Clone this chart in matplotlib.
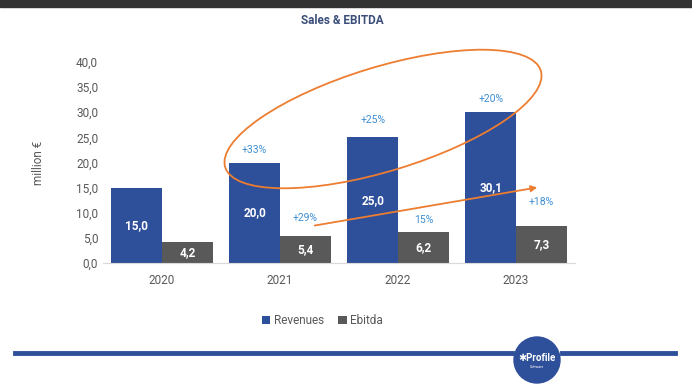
import numpy as np
import matplotlib.pyplot as plt
from matplotlib.patches import Ellipse, Circle, Rectangle, FancyArrowPatch
from matplotlib.lines import Line2D
from matplotlib.transforms import Affine2D

plt.rcParams['font.family'] = ['Roboto', 'DejaVu Sans']

# data
years = ['2020', '2021', '2022', '2023']
revenues = [15.0, 20.0, 25.0, 30.1]
ebitda = [4.2, 5.4, 6.2, 7.3]
rev_growth = ['', '+33%', '+25%', '+20%']
rev_growth_y = [0, 22.5, 28.5, 32.7]
ebitda_growth = ['', '+29%', '15%', '+18%']
ebitda_growth_y = [0, 9.0, 8.6, 12.2]

blue = '#2E4F9A'
grey = '#595959'
light_blue = '#3F8FD2'
orange = '#ED7D31'

fig = plt.figure(figsize=(6.92, 3.85), dpi=100)
ax = fig.add_axes([103/692, 1 - 263/385, 472/692, 201/385])

x = np.arange(len(years))
w = 0.43
ax.bar(x - w/2, revenues, w, color=blue, label='Revenues')
ax.bar(x + w/2, ebitda, w, color=grey, label='Ebitda')

fmt = lambda v: f'{v:.1f}'.replace('.', ',')
for xi, v in zip(x, revenues):
    ax.text(xi - w/2, v/2, fmt(v), ha='center', va='center', color='white',
            fontsize=8.5, fontweight='bold')
for xi, v in zip(x, ebitda):
    ax.text(xi + w/2, v/2, fmt(v), ha='center', va='center', color='white',
            fontsize=8.5, fontweight='bold')
for xi, yy, g in zip(x, rev_growth_y, rev_growth):
    if g:
        ax.text(xi - w/2, yy, g, ha='center', va='center', color=light_blue, fontsize=7.5)
for xi, yy, g in zip(x, ebitda_growth_y, ebitda_growth):
    if g:
        ax.text(xi + w/2, yy, g, ha='center', va='center', color=light_blue, fontsize=7.5)

ax.set_xlim(-0.5, 3.5)
ax.set_ylim(0, 40)
ax.set_xticks(x)
ax.set_xticklabels(years)
ax.set_yticks(np.arange(0, 41, 5))
ax.set_yticklabels([fmt(v) for v in np.arange(0, 41, 5)])
ax.tick_params(length=0, colors=grey, labelsize=8.5)
ax.tick_params(axis='x', pad=8)
for s in ['top', 'right', 'left']:
    ax.spines[s].set_visible(False)
ax.spines['bottom'].set_color('#d9d9d9')
ax.set_ylabel('million €', color=grey, fontsize=8.5, labelpad=22)

ax.legend(loc='upper center', bbox_to_anchor=(0.465, -0.2), ncol=2, frameon=False,
          handlelength=0.7, handleheight=0.7, handletextpad=0.3, columnspacing=1.2,
          fontsize=8.5, labelcolor=grey)

# annotations, in figure pixels
pix = Affine2D().scale(1/692, 1/385) + fig.transFigure
fig.patches.append(Ellipse((383, 385 - 119), 330, 104, angle=17, fill=False,
                           edgecolor=orange, lw=1.3, transform=pix))
fig.patches.append(FancyArrowPatch((312, 385 - 226), (540, 385 - 187), arrowstyle='-|>',
                                   mutation_scale=9, color=orange, lw=1.3, transform=pix))

# title and page decorations
fig.text(342/692, 1 - 20/385, 'Sales & EBITDA', ha='center', va='center',
         color='#3B4F7A', fontsize=8.5, fontweight='bold')
fig.patches.append(Rectangle((0, 1 - 7/385), 1, 7/385, color='#333333', transform=fig.transFigure))
fig.add_artist(Line2D([15, 512], [385 - 353] * 2, color=blue, lw=3.5, transform=pix))
fig.add_artist(Line2D([562, 675], [385 - 353] * 2, color=blue, lw=3.5, transform=pix))
fig.patches.append(Circle((537, 385 - 360), 23, color=blue, transform=pix))
fig.text(537/692, 1 - 358/385, '✱Profile', ha='center', va='center', color='white',
         fontsize=7, fontweight='bold')
fig.text(537/692, 1 - 367/385, 'Software', ha='center', va='center', color='white', fontsize=2.5)

fig.savefig('out.png', dpi=100)
